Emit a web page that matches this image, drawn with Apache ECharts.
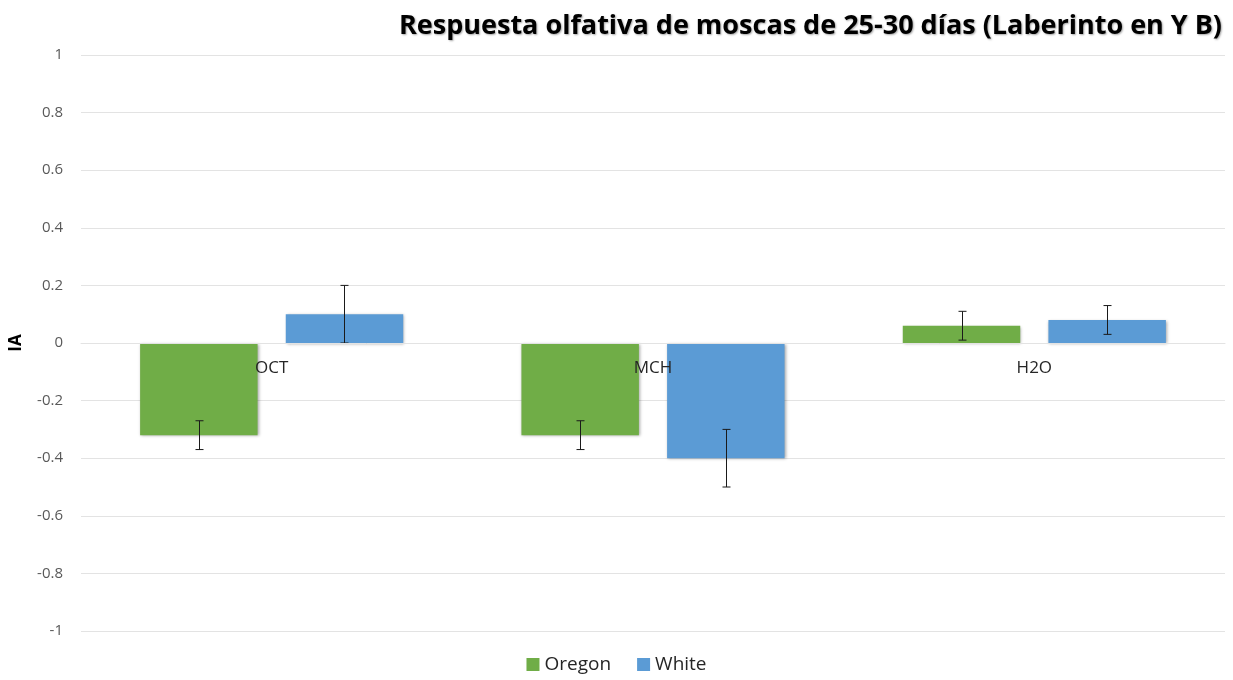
<!DOCTYPE html>
<html>
<head>
<meta charset="utf-8">
<title>Respuesta olfativa</title>
<script src="https://cdn.jsdelivr.net/npm/echarts@6/dist/echarts.min.js"></script>
<style>
  html, body { margin: 0; padding: 0; background: #ffffff; }
  #chart { width: 1233px; height: 680px; }
</style>
</head>
<body>
<div id="chart"></div>
<script>
// Olfactory index (IA) per odour, for two fly strains
const categories = ['OCT', 'MCH', 'H2O'];
const seriesNames = ['Oregon', 'White'];
const oregonValues = [-0.32, -0.32, 0.06];
const whiteValues = [0.10, -0.40, 0.08];
const oregonErrors = [0.05, 0.05, 0.05];
const whiteErrors = [0.10, 0.10, 0.05];
const yTicks = { min: -1, max: 1, step: 0.2 };

const colors = ['#70AD47', '#5B9BD5'];
const CAT_GAP = 0.31;   // fraction of the band left empty
const BAR_GAP = 0.24;   // gap between the two bars, relative to bar width
const FONT = '"Open Sans", "Liberation Sans", sans-serif';

const GRID = { left: 80, right: 8, top: 55, bottom: 49 };
const gridHeight = 680 - GRID.top - GRID.bottom;
// category labels sit on the zero line rather than at the bottom of the plot
const zeroOffset = -gridHeight * (0 - yTicks.min) / (yTicks.max - yTicks.min);

function errorRenderer(seriesIndex) {
  return function (params, api) {
    const idx = api.value(0);
    const val = api.value(1);
    const err = api.value(2);
    const band = api.size([1, 0])[0];
    const w = band * (1 - CAT_GAP) / (2 + BAR_GAP);
    const shift = (w + BAR_GAP * w) / 2 * (seriesIndex === 0 ? -1 : 1);
    const hi = api.coord([idx, val + err]);
    const lo = api.coord([idx, val - err]);
    const x = Math.round(hi[0] + shift) + 0.5;
    const cap = 4;
    const style = { stroke: '#1a1a1a', lineWidth: 1 };
    return {
      type: 'group',
      children: [
        { type: 'line', shape: { x1: x, y1: hi[1], x2: x, y2: lo[1] }, style: style },
        { type: 'line', shape: { x1: x - cap, y1: hi[1], x2: x + cap, y2: hi[1] }, style: style },
        { type: 'line', shape: { x1: x - cap, y1: lo[1], x2: x + cap, y2: lo[1] }, style: style }
      ]
    };
  };
}

function errorData(values, errors) {
  return values.map((v, i) => [i, v, errors[i]]);
}

const barShadow = {
  shadowBlur: 3,
  shadowColor: 'rgba(0,0,0,0.35)',
  shadowOffsetX: 1,
  shadowOffsetY: 1
};

const chart = echarts.init(document.getElementById('chart'), null, { renderer: 'canvas' });
chart.setOption({
  animation: false,
  backgroundColor: '#ffffff',
  title: {
    text: 'Respuesta olfativa de moscas de 25-30 días (Laberinto en Y B)',
    right: 6,
    top: 8,
    textStyle: {
      fontFamily: FONT,
      fontWeight: 'bold',
      fontSize: 27,
      color: '#000000',
      textShadowColor: 'rgba(0,0,0,0.35)',
      textShadowBlur: 2,
      textShadowOffsetX: 1,
      textShadowOffsetY: 1
    }
  },
  legend: {
    data: seriesNames,
    bottom: 1,
    left: 'center',
    icon: 'rect',
    itemWidth: 13,
    itemHeight: 13,
    itemGap: 26,
    textStyle: { fontFamily: FONT, fontSize: 19, color: '#262626' }
  },
  grid: { left: GRID.left, right: GRID.right, top: GRID.top, bottom: GRID.bottom, containLabel: false },
  xAxis: {
    type: 'category',
    data: categories,
    z: 10,
    offset: zeroOffset,
    axisLine: { show: true, lineStyle: { color: '#e3e3e3' } },
    axisTick: { show: false },
    axisLabel: { margin: 17, fontFamily: FONT, fontSize: 17, color: '#262626' },
    splitLine: { show: false }
  },
  yAxis: {
    type: 'value',
    min: yTicks.min,
    max: yTicks.max,
    interval: yTicks.step,
    name: 'IA',
    nameLocation: 'middle',
    nameRotate: 90,
    nameGap: 56,
    nameTextStyle: { fontFamily: FONT, fontWeight: 'bold', fontSize: 17, color: '#000000' },
    axisLine: { show: false },
    axisTick: { show: false },
    axisLabel: {
      margin: 18,
      fontFamily: FONT,
      fontSize: 15,
      color: '#595959',
      formatter: v => String(Math.round(v * 10) / 10)
    },
    splitLine: { lineStyle: { color: '#e3e3e3', width: 1 } }
  },
  series: [
    {
      name: seriesNames[0],
      type: 'bar',
      data: oregonValues,
      barGap: (BAR_GAP * 100) + '%',
      barCategoryGap: (CAT_GAP * 100) + '%',
      itemStyle: Object.assign({ color: colors[0] }, barShadow)
    },
    {
      name: seriesNames[1],
      type: 'bar',
      data: whiteValues,
      barGap: (BAR_GAP * 100) + '%',
      barCategoryGap: (CAT_GAP * 100) + '%',
      itemStyle: Object.assign({ color: colors[1] }, barShadow)
    },
    {
      type: 'custom',
      name: 'err0',
      renderItem: errorRenderer(0),
      data: errorData(oregonValues, oregonErrors),
      encode: { x: 0, y: 1 },
      z: 5,
      silent: true
    },
    {
      type: 'custom',
      name: 'err1',
      renderItem: errorRenderer(1),
      data: errorData(whiteValues, whiteErrors),
      encode: { x: 0, y: 1 },
      z: 5,
      silent: true
    }
  ]
});
</script>
</body>
</html>
